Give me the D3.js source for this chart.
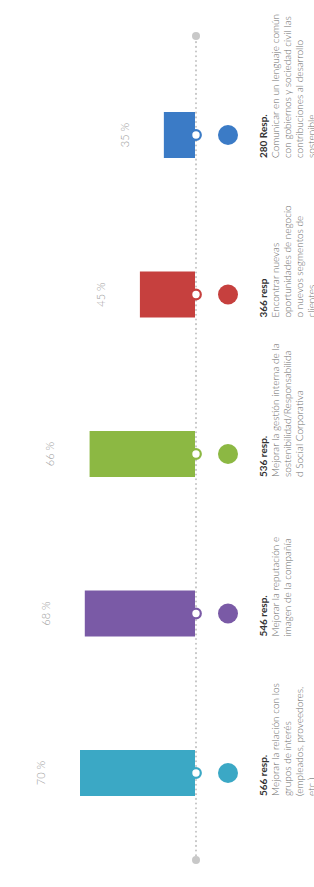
<!DOCTYPE html>
<html>
<head>
<meta charset="utf-8">
<script src="https://cdn.jsdelivr.net/npm/d3@7"></script>
<style>
  html, body { margin: 0; padding: 0; background: #fff; }
  svg { display: block; }
</style>
</head>
<body>
<div id="chart"></div>
<script>
/* data */
var keys = ["grupos", "reputacion", "gestion", "negocio", "comunicar"];
var percents = [70, 68, 66, 45, 35];
var counts = ["566 resp.", "546 resp.", "536 resp.", "366 resp", "280 Resp."];
var descriptions = [
	["Mejorar la relación con los", "grupos de interés", "(empleados, proveedores,", "etc.)"],
	["Mejorar la reputación e", "imagen de la compañía"],
	["Mejorar la gestión interna de la", "sostenibilidad/Responsabilida", "d Social Corporativa"],
	["Encontrar nuevas", "oportunidades de negocio", "o nuevos segmentos de", "clientes"],
	["Comunicar en un lenguaje común", "con gobiernos y sociedad civil las", "contribuciones al desarrollo", "sostenible"]
];
var colors = ["#3ba8c5", "#7a5aa6", "#8cb843", "#c6403e", "#3b7bc6"];

/* the graphic is laid out horizontally and then turned a quarter to the left */
var W = 887, H = 314;
var baseY = 196;

var svg = d3.select("#chart").append("svg").attr("width", 314).attr("height", 887);
var g = svg.append("g").attr("transform", "translate(0," + W + ") rotate(-90)");

var x = d3.scalePoint().domain(keys).range([114, 752]);
var y = d3.scaleLinear().domain([22, 70]).range([baseY - 1, 80]);
var barW = 46;

var items = keys.map(function(k, i) {
	return { key: k, pct: percents[i], count: counts[i], lines: descriptions[i], color: colors[i] };
});

g.selectAll(".bar")
	.data(items)
	.enter().append("rect")
	.attr("class", "bar")
	.attr("x", function(d) { return x(d.key) - barW / 2; })
	.attr("y", function(d) { return y(d.pct); })
	.attr("width", barW)
	.attr("height", function(d) { return baseY - 1 - y(d.pct); })
	.style("fill", function(d) { return d.color; });

// dotted baseline
g.append("line")
	.attr("x1", 27).attr("x2", 851)
	.attr("y1", baseY).attr("y2", baseY)
	.style("stroke", "#c4c4c4")
	.style("stroke-width", 2)
	.style("stroke-linecap", "round")
	.style("stroke-dasharray", "0.1,4.6");

g.selectAll(".end")
	.data([27, 851])
	.enter().append("circle")
	.attr("class", "end")
	.attr("cx", function(d) { return d; })
	.attr("cy", baseY)
	.attr("r", 4)
	.style("fill", "#c8c8c8");

g.selectAll(".ring")
	.data(items)
	.enter().append("circle")
	.attr("class", "ring")
	.attr("cx", function(d) { return x(d.key); })
	.attr("cy", baseY)
	.attr("r", 4.8)
	.style("fill", "#fff")
	.style("stroke", function(d) { return d.color; })
	.style("stroke-width", 2.2);

g.selectAll(".dot")
	.data(items)
	.enter().append("circle")
	.attr("class", "dot")
	.attr("cx", function(d) { return x(d.key); })
	.attr("cy", 228)
	.attr("r", 10)
	.style("fill", function(d) { return d.color; });

g.selectAll(".pct")
	.data(items)
	.enter().append("text")
	.attr("class", "pct")
	.attr("x", function(d) { return x(d.key); })
	.attr("y", function(d) { return y(d.pct) - 38; })
	.attr("text-anchor", "middle")
	.attr("dominant-baseline", "middle")
	.style("font-family", "Lato, 'Open Sans', sans-serif")
	.style("font-weight", 300)
	.style("font-size", "11px")
	.style("fill", "#9a9a9a")
	.text(function(d) { return d.pct + " %"; });

var lbl = g.selectAll(".lbl")
	.data(items)
	.enter().append("text")
	.attr("class", "lbl")
	.attr("x", function(d) { return x(d.key) - barW / 2; })
	.attr("y", 267)
	.style("font-family", "Lato, 'Open Sans', sans-serif")
	.style("font-size", "10px");

lbl.append("tspan")
	.attr("x", function(d) { return x(d.key) - barW / 2; })
	.style("font-weight", 700)
	.style("fill", "#333")
	.text(function(d) { return d.count; });

lbl.selectAll(".line")
	.data(function(d) { return d.lines.map(function(t) { return { t: t, x0: x(d.key) - barW / 2 }; }); })
	.enter().append("tspan")
	.attr("class", "line")
	.attr("x", function(d) { return d.x0; })
	.attr("dy", 12)
	.style("font-weight", 300)
	.style("fill", "#6a6a6a")
	.text(function(d) { return d.t; });
</script>
</body>
</html>
